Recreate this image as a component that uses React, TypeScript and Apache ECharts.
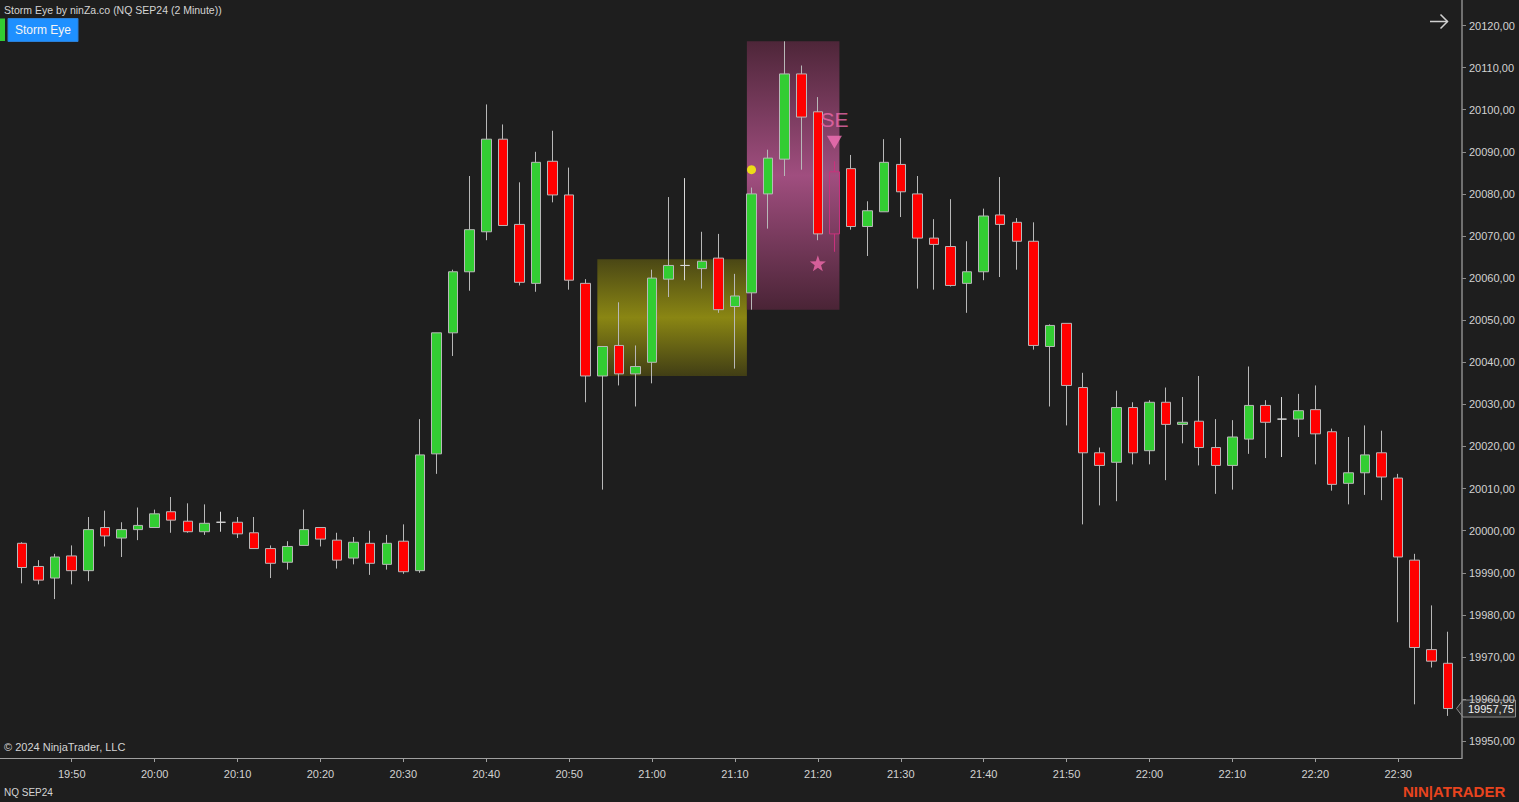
import React, { useEffect, useRef } from 'react';
import * as echarts from 'echarts';

// ---- Data (NQ SEP24, 2 minute bars) ----
const times = [
  '19:44', '19:46', '19:48', '19:50', '19:52', '19:54', '19:56', '19:58',
  '20:00', '20:02', '20:04', '20:06', '20:08', '20:10', '20:12', '20:14', '20:16', '20:18',
  '20:20', '20:22', '20:24', '20:26', '20:28', '20:30', '20:32', '20:34', '20:36', '20:38',
  '20:40', '20:42', '20:44', '20:46', '20:48', '20:50', '20:52', '20:54', '20:56', '20:58',
  '21:00', '21:02', '21:04', '21:06', '21:08', '21:10', '21:12', '21:14', '21:16', '21:18',
  '21:20', '21:22', '21:24', '21:26', '21:28', '21:30', '21:32', '21:34', '21:36', '21:38',
  '21:40', '21:42', '21:44', '21:46', '21:48', '21:50', '21:52', '21:54', '21:56', '21:58',
  '22:00', '22:02', '22:04', '22:06', '22:08', '22:10', '22:12', '22:14', '22:16', '22:18',
  '22:20', '22:22', '22:24', '22:26', '22:28', '22:30', '22:32', '22:34', '22:36',
];

const opens = [
  19997.0, 19991.5, 19988.75, 19994.0, 19990.5, 20000.75, 19998.25, 20000.25,
  20000.75, 20004.5, 20002.25, 19999.75, 20002.0, 20002.0, 19999.5, 19995.75, 19992.5, 19996.5,
  20000.75, 19997.75, 19993.5, 19997.0, 19992.0, 19997.5, 19990.5, 20018.25, 20047.0, 20061.5,
  20071.0, 20093.0, 20072.75, 20058.75, 20087.75, 20079.75, 20058.75, 20036.75, 20044.0, 20037.25,
  20040.0, 20059.75, 20063.0, 20062.25, 20064.75, 20053.25, 20056.5, 20080.0, 20088.25, 20108.5,
  20099.5, 20070.5, 20086.0, 20072.25, 20075.75, 20087.0, 20080.0, 20069.5, 20067.5, 20058.75,
  20061.5, 20075.0, 20073.25, 20068.75, 20043.75, 20049.25, 20034.0, 20018.5, 20016.25, 20029.25,
  20019.0, 20030.5, 20025.25, 20026.0, 20019.75, 20015.5, 20021.75, 20029.75, 20026.5, 20026.5,
  20028.75, 20023.5, 20011.25, 20013.75, 20018.5, 20012.5, 19993.0, 19971.75, 19968.5,
];

const highs = [
  19997.25, 19993.0, 19994.5, 19996.5, 20003.25, 20004.75, 20002.0, 20005.5,
  20005.0, 20008.0, 20006.5, 20006.25, 20004.5, 20003.25, 20003.25, 19996.5, 19997.5, 20005.0,
  20000.75, 19999.5, 19998.5, 20000.0, 19999.0, 20001.5, 20026.5, 20047.0, 20062.0, 20084.25,
  20101.25, 20096.5, 20082.75, 20090.0, 20095.0, 20086.25, 20059.75, 20043.75, 20054.25, 20044.0,
  20062.0, 20079.25, 20083.75, 20071.0, 20070.5, 20061.0, 20081.5, 20090.5, 20116.25, 20110.5,
  20103.0, 20087.75, 20089.25, 20078.25, 20093.0, 20093.25, 20084.25, 20074.0, 20078.75, 20068.75,
  20076.5, 20084.0, 20074.25, 20073.25, 20049.0, 20049.25, 20037.5, 20019.75, 20033.25, 20030.5,
  20031.0, 20034.0, 20031.75, 20036.75, 20026.5, 20026.25, 20039.0, 20031.0, 20031.75, 20032.5,
  20034.5, 20024.25, 20022.25, 20025.0, 20023.75, 20013.5, 19994.5, 19982.25, 19976.0,
];

const lows = [
  19987.5, 19987.25, 19983.75, 19987.25, 19988.0, 19996.25, 19993.75, 19997.75,
  20000.75, 19999.5, 19999.5, 19999.0, 19999.75, 19998.25, 19995.75, 19988.75, 19990.75, 19996.5,
  19996.25, 19991.0, 19992.0, 19989.5, 19990.75, 19989.75, 19990.0, 20013.5, 20041.5, 20057.0,
  20069.0, 20072.5, 20058.25, 20056.75, 20078.0, 20057.25, 20030.5, 20009.75, 20034.5, 20029.5,
  20035.0, 20055.5, 20059.5, 20057.5, 20051.75, 20038.5, 20052.5, 20071.75, 20084.25, 20085.75,
  20069.0, 20066.25, 20071.5, 20065.25, 20075.75, 20074.5, 20057.5, 20057.25, 20058.0, 20051.75,
  20059.5, 20060.25, 20062.0, 20043.0, 20029.5, 20025.0, 20001.5, 20006.0, 20007.0, 20015.75,
  20015.75, 20012.0, 20020.75, 20015.5, 20008.75, 20009.75, 20018.25, 20017.25, 20017.5, 20022.25,
  20015.75, 20009.5, 20006.25, 20008.5, 20007.25, 19978.25, 19958.75, 19967.5, 19956.0,
];

const closes = [
  19991.25, 19988.25, 19993.75, 19990.5, 20000.25, 19998.75, 20000.25, 20001.25,
  20004.0, 20002.5, 19999.75, 20001.75, 20002.0, 19999.25, 19995.75, 19992.25, 19996.25, 20000.25,
  19998.0, 19993.0, 19997.25, 19992.25, 19997.0, 19990.25, 20018.0, 20047.0, 20061.5, 20071.5,
  20093.0, 20072.5, 20059.0, 20087.5, 20079.75, 20059.5, 20036.75, 20043.75, 20037.25, 20039.0,
  20060.0, 20063.0, 20063.0, 20064.0, 20052.5, 20055.75, 20080.0, 20088.5, 20108.5, 20098.25,
  20070.5, 20085.25, 20072.25, 20076.0, 20087.5, 20080.5, 20069.5, 20068.0, 20058.25, 20061.5,
  20074.75, 20072.75, 20068.75, 20044.0, 20048.75, 20034.5, 20018.5, 20015.5, 20029.25, 20018.5,
  20030.5, 20025.25, 20025.75, 20019.75, 20015.5, 20022.25, 20029.75, 20025.75, 20026.5, 20028.5,
  20023.0, 20011.0, 20013.75, 20018.0, 20012.75, 19993.75, 19972.25, 19969.0, 19957.75,
];

// bar painted by the Storm Eye signal
const paintedBarIndex = 49;

// Storm Eye zones (bar index units, prices)
const consolidationZone = { from: 34.7, to: 43.72, high: 20064.5, low: 20036.75 };
const breakoutZone = { from: 43.72, to: 49.3, high: 20116.25, low: 20052.5 };

// Storm Eye markers: [bar index, price]
const breakoutDot = [[44, 20085.75]];
const shortEntryArrow = [[49, 20092.25]];
const shortEntryLabel = [[49, 20097.75]];
const starMarker = [[48, 20063.5]];

// axis ticks
const yTicks = [
  19950, 19960, 19970, 19980, 19990, 20000, 20010, 20020, 20030,
  20040, 20050, 20060, 20070, 20080, 20090, 20100, 20110, 20120,
];
const xTickBars = [3, 8, 13, 18, 23, 28, 33, 38, 43, 48, 53, 58, 63, 68, 73, 78, 83];

// visible ranges
const xRange = [-1.327, 86.85];
const yRange = [19946.0, 20126.06];

const FONT = '"Liberation Sans", Arial, sans-serif';
const STAR =
  'path://M0,-10L2.35,-3.24L9.51,-3.09L3.8,1.24L5.88,8.09L0,4L-5.88,8.09L-3.8,1.24L-9.51,-3.09L-2.35,-3.24Z';

export default function App() {
  const ref = useRef<HTMLDivElement>(null);

  useEffect(() => {
    document.body.style.margin = '0';
    document.body.style.background = '#1e1e1e';
    const el = ref.current as HTMLDivElement;
    const chart = echarts.init(el, null, { renderer: 'svg' });

    const mainData: any[] = [];
    times.forEach((_, i) => {
      if (i !== paintedBarIndex) mainData.push([i, opens[i], closes[i], lows[i], highs[i]]);
    });
    const paintedData = [[
      paintedBarIndex,
      opens[paintedBarIndex],
      closes[paintedBarIndex],
      lows[paintedBarIndex],
      highs[paintedBarIndex],
    ]];

    const yellowGrad = {
      type: 'linear', x: 0, y: 0, x2: 0, y2: 1,
      colorStops: [
        { offset: 0, color: '#4a4715' },
        { offset: 0.5, color: '#8a8613' },
        { offset: 1, color: '#413e15' },
      ],
    };
    const pinkGrad = {
      type: 'linear', x: 0, y: 0, x2: 0, y2: 1,
      colorStops: [
        { offset: 0, color: '#4e2639' },
        { offset: 0.5, color: '#a04e7f' },
        { offset: 1, color: '#4a2436' },
      ],
    };

    chart.setOption({
      animation: false,
      backgroundColor: '#1e1e1e',
      grid: { left: 0, right: 57, top: 0, bottom: 44, containLabel: false },
      xAxis: {
        type: 'value',
        min: xRange[0],
        max: xRange[1],
        axisLine: { show: true, onZero: false, lineStyle: { color: '#a0a0a0', width: 1 } },
        axisTick: { show: true, customValues: xTickBars, length: 4, lineStyle: { color: '#a0a0a0' } },
        axisLabel: {
          customValues: xTickBars,
          formatter: (v: number) => times[Math.round(v)] || '',
          color: '#d2d2d2',
          fontSize: 11,
          fontFamily: FONT,
          margin: 10,
        },
        splitLine: { show: false },
      },
      yAxis: {
        type: 'value',
        position: 'right',
        min: yRange[0],
        max: yRange[1],
        axisLine: { show: true, onZero: false, lineStyle: { color: '#8c8c8c', width: 1.5 } },
        axisTick: { show: true, customValues: yTicks, length: 4, lineStyle: { color: '#8c8c8c' } },
        axisLabel: {
          customValues: yTicks,
          formatter: (v: number) => v.toFixed(2).replace('.', ','),
          color: '#d2d2d2',
          fontSize: 11,
          fontFamily: FONT,
          margin: 7,
        },
        splitLine: { show: false },
      },
      series: [
        {
          name: 'NQ SEP24',
          type: 'candlestick',
          data: mainData,
          barWidth: 10,
          z: 3,
          itemStyle: {
            color: '#32cd32',
            color0: '#ff0000',
            borderColor: '#b8b8b8',
            borderColor0: '#b8b8b8',
            borderColorDoji: '#d8d8d8',
            borderWidth: 1,
          },
          markArea: {
            silent: true,
            z: 1,
            data: [
              [
                { coord: [consolidationZone.from, consolidationZone.high], itemStyle: { color: yellowGrad } },
                { coord: [consolidationZone.to, consolidationZone.low] },
              ],
              [
                { coord: [breakoutZone.from, breakoutZone.high], itemStyle: { color: pinkGrad } },
                { coord: [breakoutZone.to, breakoutZone.low] },
              ],
            ],
          },
        },
        {
          name: 'Storm Eye bar',
          type: 'candlestick',
          data: paintedData,
          barWidth: 10,
          z: 3,
          itemStyle: {
            color: 'rgba(0,0,0,0)',
            color0: 'rgba(0,0,0,0)',
            borderColor: '#c8327c',
            borderColor0: '#c8327c',
            borderWidth: 1,
          },
        },
        {
          type: 'scatter',
          data: breakoutDot,
          symbol: 'circle',
          symbolSize: 9,
          z: 5,
          itemStyle: { color: '#ffff00' },
        },
        {
          type: 'scatter',
          data: shortEntryArrow,
          symbol: 'triangle',
          symbolRotate: 180,
          symbolSize: [15, 13],
          z: 5,
          itemStyle: { color: '#f472b6' },
        },
        {
          type: 'scatter',
          data: starMarker,
          symbol: STAR,
          symbolSize: 16,
          z: 5,
          itemStyle: { color: '#f06aab' },
        },
        {
          type: 'scatter',
          data: shortEntryLabel,
          symbol: 'circle',
          symbolSize: 1,
          z: 5,
          itemStyle: { color: 'rgba(0,0,0,0)' },
          label: {
            show: true,
            position: 'inside',
            formatter: 'SE',
            color: '#f06aab',
            fontSize: 21,
            fontFamily: FONT,
          },
        },
      ],
    });

    const lastClose = closes[closes.length - 1];
    const py = chart.convertToPixel({ yAxisIndex: 0 }, lastClose) as number;

    chart.setOption({
      graphic: [
        {
          type: 'text', left: 4, top: 4,
          style: { text: 'Storm Eye by ninZa.co (NQ SEP24 (2 Minute))', fill: '#d4d4d4', font: `10.5px ${FONT}` },
        },
        { type: 'rect', shape: { x: 0, y: 18.5, width: 5, height: 22.5 }, style: { fill: '#32cd32' } },
        { type: 'rect', shape: { x: 8, y: 18.5, width: 70, height: 23 }, style: { fill: '#1e90ff', stroke: '#2b7fd6', lineWidth: 1 } },
        {
          type: 'text', x: 43, y: 30,
          style: { text: 'Storm Eye', fill: '#f4f4f4', font: `12px ${FONT}`, align: 'center', verticalAlign: 'middle' },
        },
        { type: 'line', shape: { x1: 1430, y1: 21.5, x2: 1447.5, y2: 21.5 }, style: { stroke: '#d0d0d0', lineWidth: 1.5 } },
        {
          type: 'polyline',
          shape: { points: [[1440.5, 14.5], [1447.5, 21.5], [1440.5, 28.5]] },
          style: { stroke: '#d0d0d0', lineWidth: 1.5, fill: 'none' },
        },
        {
          type: 'text', x: 4, y: 747,
          style: { text: '\u00a9 2024 NinjaTrader, LLC', fill: '#d4d4d4', font: `11px ${FONT}`, verticalAlign: 'middle' },
        },
        {
          type: 'text', x: 4, y: 792,
          style: { text: 'NQ SEP24', fill: '#d4d4d4', font: `10px ${FONT}`, verticalAlign: 'middle' },
        },
        {
          type: 'text', x: 1403, y: 791.5,
          style: { text: 'NIN|ATRADER', fill: '#e8441e', font: `bold 15px ${FONT}`, verticalAlign: 'middle' },
        },
        {
          type: 'polygon',
          shape: {
            points: [[1456.5, py], [1463, py - 8.5], [1515.5, py - 8.5], [1515.5, py + 8.5], [1463, py + 8.5]],
          },
          style: { fill: '#2e2e2e', stroke: '#8c8c8c', lineWidth: 1 },
        },
        {
          type: 'text', x: 1468, y: py,
          style: {
            text: lastClose.toFixed(2).replace('.', ','),
            fill: '#f0f0f0', font: `11px ${FONT}`, verticalAlign: 'middle',
          },
        },
      ],
    });

    return () => chart.dispose();
  }, []);

  return (
    <div
      ref={ref}
      style={{ position: 'fixed', left: 0, top: 0, width: 1519, height: 802, background: '#1e1e1e' }}
    />
  );
}
